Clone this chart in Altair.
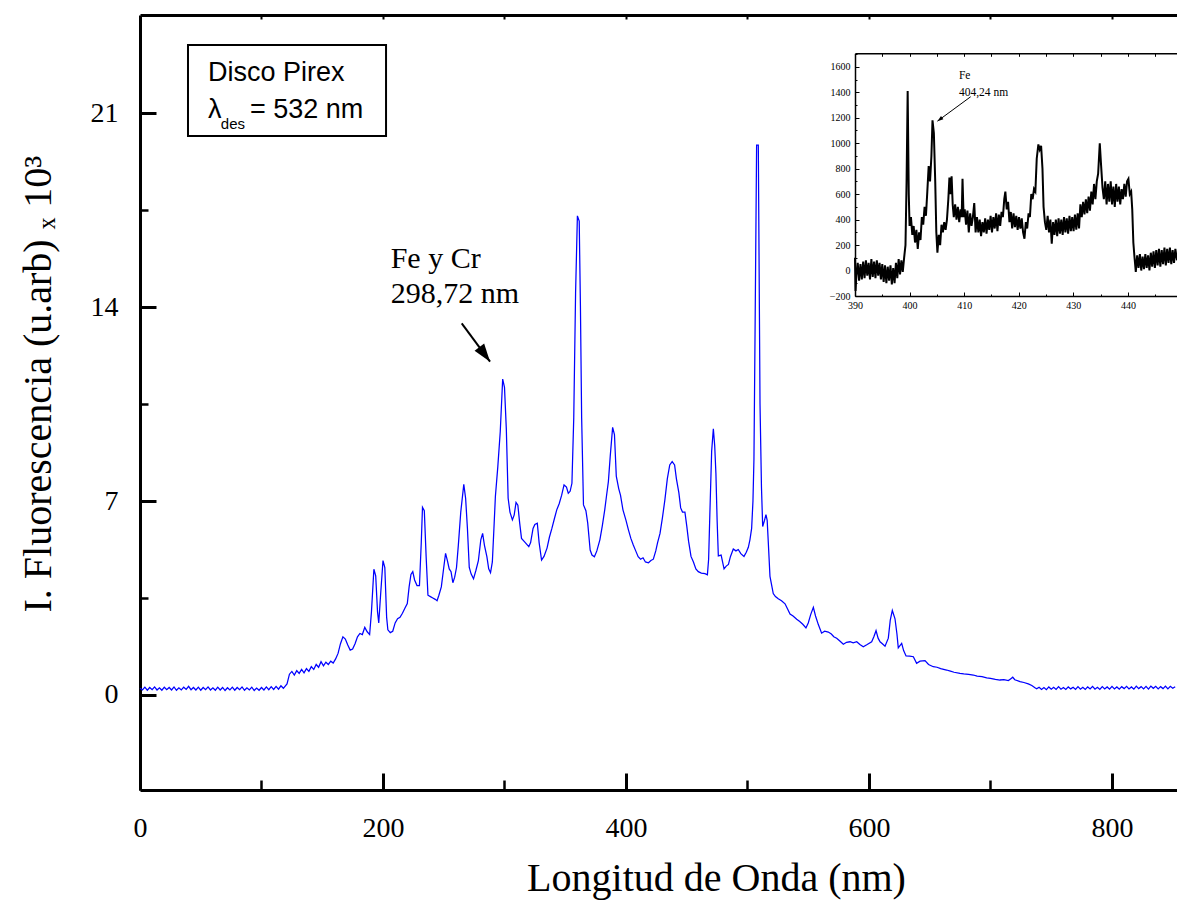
import altair as alt
import pandas as pd

SERIF = "Liberation Serif"
SANS = "Liberation Sans"

# ---------------- main spectrum (wavelength nm, intensity x10^3) ----------------
spectrum_baseline = [
    (0, .24), (2, .18), (4, .28), (6, .17), (8, .27), (10, .19), (12, .29), (14, .18), (16, .26), (18, .17),
    (20, .28), (22, .19), (24, .27), (26, .18), (28, .29), (30, .17), (32, .26), (34, .18), (36, .28), (38, .20),
    (40, .31), (42, .19), (44, .27), (46, .18), (48, .28), (50, .17), (52, .27), (54, .19), (56, .29), (58, .18),
    (60, .26), (62, .17), (64, .28), (66, .18), (68, .27), (70, .16), (72, .26), (74, .18), (76, .28), (78, .17),
    (80, .27), (82, .19), (84, .29), (86, .17), (88, .26), (90, .18), (92, .28), (94, .16), (96, .25), (98, .17),
    (100, .27), (102, .18), (104, .29), (106, .19), (108, .30), (110, .20), (112, .31), (114, .21), (116, .33), (118, .24),
]
spectrum_rise = [
    (121, .40), (123, .75), (125, .85), (127, .72), (129, .88), (131, .78), (133, .92), (135, .80), (137, .95), (139, .85),
    (141, 1.02), (143, .92), (145, 1.10), (147, 1.00), (149, 1.20), (151, 1.05), (153, 1.18), (155, 1.10), (157, 1.22),
    (159, 1.15), (161, 1.30), (163, 1.50), (165, 1.85), (167, 2.10), (169, 2.02), (171, 1.80), (173, 1.62), (175, 1.66),
    (177, 1.85), (179, 2.10), (181, 2.22), (183, 2.18), (185, 2.44), (187, 2.28), (189, 2.18), (190.5, 3.0), (192.5, 4.54),
    (194, 4.3), (195.5, 3.0), (196.5, 2.6), (198, 3.6), (200, 4.85), (201.5, 4.6), (203, 2.8), (204, 2.35), (206, 2.25),
    (208, 2.3), (210, 2.6), (212, 2.75), (214, 2.8), (216, 2.95), (218, 3.13), (220, 3.3), (221.5, 3.9), (223, 4.35),
    (224.5, 4.45), (226, 4.15), (228, 3.95), (230, 3.95), (231.5, 5.5), (232.5, 6.77), (234, 6.65), (235.5, 5.0),
    (237, 3.6), (239, 3.55), (241, 3.5), (243, 3.45), (244.5, 3.4), (246, 3.6), (248, 3.9), (250, 4.6), (251.5, 5.11),
    (253, 4.85), (254.5, 4.55), (256, 4.45), (257.5, 4.05), (259, 4.25), (260.5, 4.6), (262, 5.4), (264, 6.6),
    (266.5, 7.6), (268, 7.1), (269.5, 6.0), (271, 4.6), (272.5, 4.37), (274.5, 4.19), (276.5, 4.5), (278.5, 4.85),
    (280.5, 5.6), (282, 5.83), (283.5, 5.4), (285.5, 4.99), (287, 4.55), (288.5, 4.41), (290, 4.8), (291.5, 6.2),
    (292.5, 7.16), (294.5, 8.24), (296.5, 9.5),
]
spectrum_peaks = [
    (298.5, 11.4), (300, 11.1), (301.5, 9.6), (303, 7.1), (304.5, 6.6), (306.5, 6.32), (308, 6.5), (309.5, 6.95),
    (311, 6.85), (312.5, 6.2), (314, 5.65), (316, 5.55), (318, 5.45), (320, 5.35), (321.5, 5.5), (323.5, 6.01),
    (325, 6.15), (327, 6.2), (328.5, 5.5), (330.5, 4.87), (332.5, 5.0), (335, 5.3), (337, 5.7), (339, 6.01),
    (341, 6.35), (343, 6.68), (345, 6.9), (347, 7.2), (349, 7.58), (351, 7.5), (352.5, 7.28), (354, 7.35),
    (355.5, 7.64), (357, 10.0), (358.5, 14.5), (360, 17.29), (361.5, 17.1), (362.5, 14.0), (363.5, 10.0),
    (365, 6.86), (367, 6.65), (368.5, 6.2), (370.5, 5.23), (372, 5.05), (374, 4.99), (376, 5.2), (378.5, 5.6),
    (380.5, 6.1), (382.5, 6.68), (384, 7.2), (385.5, 7.7), (387, 8.6), (389, 9.66), (390.5, 9.4), (392, 7.9),
    (394, 7.45), (395.5, 7.2), (397.5, 6.68), (400, 6.3), (402, 5.96), (404, 5.65), (406, 5.41), (408, 5.2),
    (410, 4.99), (412, 4.9), (414, 4.95), (416, 4.8), (418.5, 4.77), (420.5, 4.85), (422.5, 4.9), (424.5, 5.2),
    (426, 5.5), (428, 5.83), (430, 6.4), (432, 7.04), (434, 7.8), (436, 8.3), (438, 8.42), (440, 8.3),
    (441.5, 7.8), (443.5, 7.3), (445, 6.75), (446.5, 6.6), (448.5, 6.6), (450, 6.1), (451.5, 5.55), (453.5, 5.0),
    (455.5, 4.8), (457.5, 4.55), (459.5, 4.45), (462, 4.4), (465, 4.38), (467, 4.34), (468, 4.9), (469, 6.5),
    (470.5, 8.8), (471.9, 9.61), (473, 9.0), (474, 8.0), (475, 6.3), (476, 5.02), (478.3, 5.05), (480.7, 4.55),
    (482.5, 4.65), (484.3, 4.71), (486, 5.0), (488.3, 5.27), (490.5, 5.2), (492.4, 5.25), (494.5, 5.1),
    (497.1, 5.0), (499, 5.15), (500.7, 5.33), (502, 5.6), (503.4, 6.01), (504.5, 7.0), (505.3, 8.5),
    (506.2, 13.0), (507.5, 19.84), (508.9, 19.84), (510.3, 10.5), (511.5, 7.5), (512.5, 6.08), (514, 6.3),
    (515.2, 6.51), (516.2, 6.3), (517.1, 5.52), (518.5, 4.28),
]
spectrum_tail = [
    (521.2, 3.66), (523, 3.55), (525.3, 3.47), (528, 3.4), (530.9, 3.29), (533, 3.1), (535, 2.92), (537.5, 2.85),
    (540.5, 2.73), (543, 2.65), (545.5, 2.55), (548.1, 2.42), (550, 2.6), (552, 2.9), (554.2, 3.16), (556, 2.85),
    (558.3, 2.54), (561, 2.23), (563.5, 2.3), (566.5, 2.27), (569, 2.2), (571, 2.1), (573.4, 2.05), (576, 1.95),
    (578.9, 1.83), (581.5, 1.9), (584.4, 1.92), (587, 1.88), (589.9, 1.92), (592.5, 1.82), (595.3, 1.74),
    (598.5, 1.82), (602.2, 1.92), (604, 2.1), (605.8, 2.32), (607.5, 2.05), (609.1, 1.92), (611, 1.85),
    (613.2, 1.76), (615.9, 2.05), (617.5, 2.7), (619.2, 3.05), (621.4, 2.75), (623, 2.2), (624.1, 1.7),
    (626.9, 1.86), (628.5, 1.6), (630.5, 1.41), (633.5, 1.40), (636.5, 1.38), (639.2, 1.14), (642, 1.22),
    (646.1, 1.24), (649, 1.10), (652.9, 1.02), (656, 1.0), (659, 0.95), (663.9, 0.90), (667, 0.86), (670, 0.82),
    (674.9, 0.78), (678, 0.76), (682, 0.74), (685.9, 0.72), (689, 0.68), (693, 0.66), (696.9, 0.62), (700, 0.60),
    (704, 0.56), (707.8, 0.54), (711, 0.55), (714.7, 0.52), (716.5, 0.58), (718.3, 0.64), (720, 0.55),
    (724.3, 0.48), (727.5, 0.45), (731.1, 0.40), (734, 0.34), (736.6, 0.26),
    (738, .22), (740, .28), (742, .20), (744, .27), (746, .19), (748, .29), (750, .21), (752, .28), (754, .20),
    (756, .30), (758, .21), (760, .27), (762, .20), (764, .29), (766, .22), (768, .28), (770, .20), (772, .30),
    (774, .21), (776, .28), (778, .20), (780, .29), (782, .22), (784, .31), (786, .21), (788, .28), (790, .20),
    (792, .30), (794, .22), (796, .29), (798, .21), (800, .31), (802, .22), (804, .29), (806, .21), (808, .30),
    (810, .23), (812, .31), (814, .22), (816, .29), (818, .21), (820, .32), (822, .23), (824, .30), (826, .22),
    (828, .31), (830, .21), (832, .32), (834, .24), (836, .31), (838, .22), (840, .30), (842, .23), (844, .32),
    (846, .22), (848, .31), (850, .24), (852, .30),
]

# ---------------- inset spectrum (390-450 nm, counts) ----------------
inset_low = [
    (390.0, 100), (390.1, -160), (390.25, -40), (390.5, 60), (390.75, -80), (391.0, 50), (391.25, -70), (391.5, 70),
    (391.75, -60), (392.0, 80), (392.25, -40), (392.5, 60), (392.75, -70), (393.0, 90), (393.25, -50), (393.5, 70),
    (393.75, -60), (394.0, 80), (394.25, -40), (394.5, 60), (394.75, -70), (395.0, 50), (395.25, -90), (395.5, 40),
    (395.75, -100), (396.0, 30), (396.25, -80), (396.5, 40), (396.75, -110), (397.0, 20), (397.25, -100), (397.5, 60),
    (397.75, -60), (398.0, 90), (398.25, -30), (398.5, 80), (398.75, -10), (399.0, 100), (399.25, 200),
]
inset_band = [
    (399.45, 700), (399.65, 1410), (399.85, 600), (400.0, 350), (400.25, 420), (400.5, 280), (400.75, 350),
    (401.0, 220), (401.25, 320), (401.5, 170), (401.75, 300), (402.0, 240), (402.25, 420), (402.5, 360),
    (402.75, 500), (403.0, 430), (403.25, 620), (403.5, 820), (403.75, 700), (404.0, 900), (404.2, 1180),
    (404.45, 1080), (404.7, 700), (404.9, 300), (405.1, 140), (405.35, 280), (405.6, 200), (405.85, 360),
    (406.1, 300), (406.35, 380), (406.6, 320), (406.85, 400), (407.1, 560), (407.3, 730), (407.5, 600),
    (407.7, 740), (407.9, 520), (408.1, 420), (408.35, 520), (408.6, 400), (408.85, 500), (409.1, 380),
    (409.35, 480), (409.55, 420), (409.7, 720), (409.9, 420), (410.1, 480), (410.35, 360), (410.6, 470),
    (410.85, 300), (411.1, 450), (411.35, 350), (411.6, 420), (411.85, 530), (412.1, 300), (412.35, 420),
    (412.6, 300), (412.85, 400), (413.1, 270), (413.35, 380), (413.6, 300), (413.85, 410), (414.1, 290),
    (414.35, 400), (414.6, 320), (414.85, 430), (415.1, 300), (415.35, 420), (415.6, 330), (415.85, 450),
    (416.1, 310), (416.35, 440), (416.6, 350), (416.85, 460), (417.1, 420), (417.35, 560), (417.55, 620),
    (417.8, 480), (418.05, 540), (418.3, 380), (418.55, 460), (418.8, 330), (419.05, 450), (419.3, 340),
    (419.55, 430), (419.8, 320), (420.05, 420), (420.3, 330), (420.55, 410), (420.8, 300), (421.05, 250),
    (421.3, 380), (421.55, 330), (421.8, 450), (422.05, 420), (422.3, 600), (422.55, 560), (422.8, 640),
    (423.05, 620), (423.3, 880), (423.6, 990), (423.85, 950), (424.1, 980), (424.35, 800), (424.55, 500),
    (424.8, 380), (425.05, 320), (425.3, 430), (425.55, 300), (425.8, 400), (426.05, 210), (426.3, 380),
    (426.55, 280), (426.8, 400), (427.05, 270), (427.3, 410), (427.55, 290), (427.8, 400), (428.05, 280),
    (428.3, 420), (428.55, 300), (428.8, 410), (429.05, 290), (429.3, 430), (429.55, 310), (429.8, 420),
    (430.05, 310), (430.3, 440), (430.55, 320), (430.8, 450), (431.05, 330), (431.3, 520), (431.55, 420),
    (431.8, 540), (432.05, 440), (432.3, 560), (432.55, 450), (432.8, 580), (433.05, 470), (433.3, 620),
    (433.55, 520), (433.8, 680), (434.05, 560), (434.3, 700), (434.55, 760), (434.85, 1000), (435.1, 820),
    (435.35, 650), (435.6, 560), (435.85, 700), (436.1, 520), (436.35, 680), (436.6, 540), (436.85, 700),
    (437.1, 520), (437.35, 660), (437.6, 500), (437.85, 680), (438.1, 540), (438.35, 660), (438.6, 520),
    (438.85, 640), (439.1, 560), (439.35, 680), (439.6, 580), (439.85, 700), (440.1, 720), (440.35, 600),
    (440.6, 620), (440.8, 480),
]
inset_after = [
    (441.0, 220), (441.2, 110), (441.45, -10), (441.7, 120), (441.95, 20), (442.2, 130), (442.45, 0), (442.7, 110),
    (442.95, 10), (443.2, 130), (443.45, 20), (443.7, 120), (443.95, 0), (444.2, 140), (444.45, 30), (444.7, 150),
    (444.95, 20), (445.2, 160), (445.45, 40), (445.7, 170), (445.95, 30), (446.2, 160), (446.45, 50), (446.7, 180),
    (446.95, 40), (447.2, 170), (447.45, 60), (447.7, 180), (447.95, 50), (448.2, 160), (448.45, 60), (448.7, 170),
    (449.0, 80),
]

# ---------------- tick values ----------------
main_x_major = [0, 200, 400, 600, 800]
main_x_minor = [100, 300, 500, 700]
main_x_top = [100, 200, 300, 400, 500, 600, 700, 800]
main_y_major = [0, 7, 14, 21]
main_y_minor = [3.5, 10.5, 17.5]
inset_x_major = [390, 400, 410, 420, 430, 440]
inset_x_minor = [395, 405, 415, 425, 435, 445]
inset_x_top = [390, 395, 400, 405, 410, 415, 420, 425, 430, 435, 440, 445]
inset_y_major = [-200, 0, 200, 400, 600, 800, 1000, 1200, 1400, 1600]
inset_y_minor = [-100, 100, 300, 500, 700, 900, 1100, 1300, 1500, 1700]

# ---------------- annotations (data coordinates) ----------------
main_labels = [("Fe y Cr", 206.3, 15.40), ("298,72 nm", 206.3, 14.14)]
main_arrow = [(264.8, 13.41, 288.1, 12.03)]
legend_box = [(39.5, 20.17, 202.5, 23.46)]
legend_texts = [("Disco Pirex", 56.0, 22.16, 27), ("\u03bb", 56.0, 20.82, 27),
                ("des", 66.5, 20.44, 15), ("= 532 nm", 90.5, 20.82, 27)]
inset_labels = [("Fe", 409.05, 1504), ("404,24 nm", 409.05, 1370)]
inset_arrow = [(411.2, 1365, 405.1, 1173)]

main_df = pd.DataFrame(spectrum_baseline + spectrum_rise + spectrum_peaks + spectrum_tail, columns=["nm", "val"])
inset_df = pd.DataFrame(inset_low + inset_band + inset_after, columns=["nm", "val"])
main_lab_df = pd.DataFrame(main_labels, columns=["t", "x", "y"])
main_arrow_df = pd.DataFrame(main_arrow, columns=["x", "y", "x2", "y2"])
box_df = pd.DataFrame(legend_box, columns=["x", "y", "x2", "y2"])
leg_df = pd.DataFrame(legend_texts, columns=["t", "x", "y", "fs"])
inset_lab_df = pd.DataFrame(inset_labels, columns=["t", "x", "y"])
inset_arrow_df = pd.DataFrame(inset_arrow, columns=["x", "y", "x2", "y2"])

W, H = 1037, 775
XM = alt.Scale(domain=[0, 853.5], nice=False, zero=False)
YM = alt.Scale(domain=[-3.43, 24.54], nice=False, zero=False)
XI = alt.Scale(domain=[390, 449], range=[715, 1037], nice=False, zero=False)
YI = alt.Scale(domain=[-200, 1706], range=[281, 38.3], nice=False, zero=False)

ARROW = "M0,0 L0.33,-1 L-0.33,-1 Z"

# ---------------- axes ----------------
ax_x_major = alt.Axis(orient="bottom", values=main_x_major, tickSize={"expr": "-17"}, tickWidth=3,
                      domainWidth=3, labelFontSize=28, labelPadding=41,
                      title="Longitud de Onda (nm)", titleFontSize=40, titleX=576, titleY=100,
                      titleAlign="center", titleBaseline="alphabetic")
ax_x_minor = alt.Axis(orient="bottom", values=main_x_minor, tickSize={"expr": "-10"}, tickWidth=2.5,
                      labels=False, domain=False, title=None)
ax_x_top = alt.Axis(orient="top", values=main_x_top, tickSize={"expr": "-4"}, tickWidth=2,
                    labels=False, domainWidth=3, title=None)
ax_y_major = alt.Axis(orient="left", values=main_y_major, tickSize={"expr": "-16"}, tickWidth=3,
                      domainWidth=3, labelFontSize=28, labelPadding=38,
                      title="I. Fluorescencia (u.arb) \u2093 10\u00b3", titleFontSize=40, titleAngle=270,
                      titleX=-90, titleY=597, titleAlign="left", titleBaseline="alphabetic")
ax_y_minor = alt.Axis(orient="left", values=main_y_minor, tickSize={"expr": "-8"}, tickWidth=2.5,
                      labels=False, domain=False, title=None)

ax_xi_major = alt.Axis(orient="bottom", offset=-494, values=inset_x_major, tickSize={"expr": "-4"},
                       tickWidth=1, domainWidth=1.5, labelFontSize=10, labelPadding=8, format="d", title=None)
ax_xi_minor = alt.Axis(orient="bottom", offset=-494, values=inset_x_minor, tickSize={"expr": "-2"},
                       tickWidth=1, labels=False, domain=False, title=None)
ax_xi_top = alt.Axis(orient="top", offset=-38.3, values=inset_x_top, tickSize={"expr": "-3"},
                     tickWidth=1, labels=False, domainWidth=1.5, title=None)
ax_yi_major = alt.Axis(orient="left", offset=-715, values=inset_y_major, tickSize={"expr": "-4"},
                       tickWidth=1, domainWidth=1.5, labelFontSize=10, labelPadding=9, format="d", title=None)
ax_yi_minor = alt.Axis(orient="left", offset=-715, values=inset_y_minor, tickSize={"expr": "-2"},
                       tickWidth=1, labels=False, domain=False, title=None)

# ---------------- main layers ----------------
main_line = alt.Chart(main_df).mark_line(color="#0000ff", strokeWidth=1.25).encode(
    x=alt.X("nm:Q", scale=XM, axis=ax_x_major),
    y=alt.Y("val:Q", scale=YM, axis=ax_y_major),
)
main_shaft = alt.Chart(main_arrow_df).mark_rule(color="black", strokeWidth=2).encode(
    x=alt.X("x:Q", scale=XM, axis=ax_x_minor), x2="x2:Q",
    y=alt.Y("y:Q", scale=YM, axis=ax_y_minor), y2="y2:Q",
)
main_head = alt.Chart(main_arrow_df).mark_point(shape=ARROW, filled=True, size=1296, angle=323.6,
                                                color="black", opacity=1).encode(
    x=alt.X("x2:Q", scale=XM, axis=None),
    y=alt.Y("y2:Q", scale=YM, axis=None),
)
main_text = alt.Chart(main_lab_df).mark_text(font=SERIF, fontSize=30, align="left",
                                             baseline="alphabetic", color="black").encode(
    x=alt.X("x:Q", scale=XM, axis=ax_x_top),
    y=alt.Y("y:Q", scale=YM, axis=None),
    text="t:N",
)
box = alt.Chart(box_df).mark_rect(fill="white", stroke="black", strokeWidth=2).encode(
    x=alt.X("x:Q", scale=XM, axis=None), x2="x2:Q",
    y=alt.Y("y:Q", scale=YM, axis=None), y2="y2:Q",
)
box_text = alt.Chart(leg_df).mark_text(font=SANS, align="left", baseline="alphabetic", color="black").encode(
    x=alt.X("x:Q", scale=XM, axis=None),
    y=alt.Y("y:Q", scale=YM, axis=None),
    text="t:N",
    size=alt.Size("fs:Q", scale=None, legend=None),
)
main_group = alt.layer(main_line, main_shaft, main_head, main_text, box, box_text).resolve_axis(
    x="independent", y="independent")

# ---------------- inset layers ----------------
inset_line = alt.Chart(inset_df).mark_line(color="black", strokeWidth=2).encode(
    x=alt.X("nm:Q", scale=XI, axis=ax_xi_major),
    y=alt.Y("val:Q", scale=YI, axis=ax_yi_major),
)
inset_shaft = alt.Chart(inset_arrow_df).mark_rule(color="black", strokeWidth=1).encode(
    x=alt.X("x:Q", scale=XI, axis=ax_xi_minor), x2="x2:Q",
    y=alt.Y("y:Q", scale=YI, axis=ax_yi_minor), y2="y2:Q",
)
inset_head = alt.Chart(inset_arrow_df).mark_point(shape=ARROW, filled=True, size=144, angle=53.1,
                                                  color="black", opacity=1).encode(
    x=alt.X("x2:Q", scale=XI, axis=None),
    y=alt.Y("y2:Q", scale=YI, axis=None),
)
inset_text = alt.Chart(inset_lab_df).mark_text(font=SERIF, fontSize=11.5, align="left",
                                               baseline="alphabetic", color="black").encode(
    x=alt.X("x:Q", scale=XI, axis=ax_xi_top),
    y=alt.Y("y:Q", scale=YI, axis=None),
    text="t:N",
)
inset_group = alt.layer(inset_line, inset_shaft, inset_head, inset_text).resolve_axis(
    x="independent", y="independent")

chart = alt.layer(main_group, inset_group).resolve_scale(
    x="independent", y="independent"
).properties(
    width=W, height=H,
    autosize=alt.AutoSizeParams(type="none"),
    padding={"left": 140, "top": 15, "right": 0, "bottom": 114},
    background="white",
).configure_view(stroke=None).configure_axis(
    labelFont=SERIF, titleFont=SERIF, labelColor="black", titleColor="black",
    tickColor="black", domainColor="black", grid=False, labelFlush=False,
    labelOverlap=False, titleFontWeight="normal",
)

chart.save("out.html", embed_options={"renderer": "svg", "actions": False})
